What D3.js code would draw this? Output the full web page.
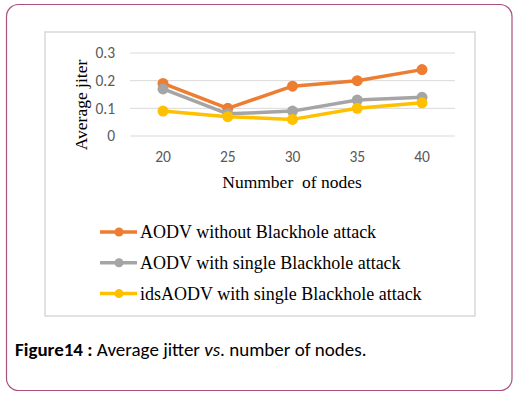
<!DOCTYPE html>
<html>
<head>
<meta charset="utf-8">
<script src="https://cdn.jsdelivr.net/npm/d3@7"></script>
<style>
  html, body { margin: 0; padding: 0; background: #fff; }
  svg { display: block; }
</style>
</head>
<body>
<svg id="chart" width="514" height="395"></svg>
<script>
const nodes = [20, 25, 30, 35, 40]
const yTicks = [0, 0.1, 0.2, 0.3]
const seriesNames = [
  'AODV without Blackhole attack',
  'AODV with single Blackhole attack',
  'idsAODV with single Blackhole attack'
]
const aodvNoAttack = [0.19, 0.10, 0.18, 0.20, 0.24]
const aodvSingle = [0.17, 0.08, 0.09, 0.13, 0.14]
const idsAodvSingle = [0.09, 0.07, 0.06, 0.10, 0.12]
const COLORS = ['#ED7D31', '#A5A5A5', '#FFC000']

const series = [aodvNoAttack, aodvSingle, idsAodvSingle].map((values, i) => ({
  name: seriesNames[i],
  color: COLORS[i],
  points: values.map((v, j) => ({ x: nodes[j], y: v }))
}))

const svg = d3.select('#chart')

// outer frame
svg.append('rect')
  .attr('x', 6.5).attr('y', 4.5)
  .attr('width', 505.5).attr('height', 386)
  .attr('rx', 12)
  .attr('fill', '#fff')
  .attr('stroke', '#a9507f')
  .attr('stroke-width', 1.2)

// chart box
svg.append('rect')
  .attr('x', 45).attr('y', 32)
  .attr('width', 430).attr('height', 284)
  .attr('fill', '#fff')
  .attr('stroke', '#d9d9d9')
  .attr('stroke-width', 1.5)

const x = d3.scalePoint()
  .domain(nodes)
  .range([163, 422])

const y = d3.scaleLinear()
  .domain([0, 0.3])
  .range([136, 53])

// gridlines
svg.append('g')
  .selectAll('line')
  .data(yTicks)
  .enter()
  .append('line')
  .attr('x1', 130).attr('x2', 455)
  .attr('y1', d => y(d)).attr('y2', d => y(d))
  .attr('stroke', '#d9d9d9')
  .attr('stroke-width', 1)

const sansFont = 'Carlito, "Open Sans", "Liberation Sans", sans-serif'
const serifFont = '"Liberation Serif", "DejaVu Serif", serif'

// y tick labels
svg.append('g')
  .selectAll('text')
  .data(yTicks)
  .enter()
  .append('text')
  .attr('x', 115)
  .attr('y', d => y(d))
  .attr('dy', '0.35em')
  .attr('text-anchor', 'end')
  .attr('font-family', sansFont)
  .attr('font-size', '15.5px')
  .attr('fill', '#595959')
  .text(d => d === 0 ? '0' : d3.format('.1f')(d))

// x tick labels
svg.append('g')
  .selectAll('text')
  .data(nodes)
  .enter()
  .append('text')
  .attr('x', d => x(d))
  .attr('y', 162)
  .attr('text-anchor', 'middle')
  .attr('font-family', sansFont)
  .attr('font-size', '15.5px')
  .attr('fill', '#595959')
  .text(d => d)

// axis titles
svg.append('text')
  .attr('x', 292)
  .attr('y', 188)
  .attr('text-anchor', 'middle')
  .attr('font-family', serifFont)
  .attr('font-size', '17.5px')
  .attr('fill', '#000')
  .style('white-space', 'pre')
  .text('Nummber  of nodes')

svg.append('text')
  .attr('transform', 'translate(87,105) rotate(-90)')
  .attr('text-anchor', 'middle')
  .attr('font-family', serifFont)
  .attr('font-size', '17.5px')
  .attr('fill', '#000')
  .text('Average jiter')

// lines and markers
const line = d3.line()
  .x(d => x(d.x))
  .y(d => y(d.y))

const seriesG = svg.append('g')
  .selectAll('g')
  .data(series)
  .enter()
  .append('g')

seriesG.append('path')
  .attr('d', d => line(d.points))
  .attr('fill', 'none')
  .attr('stroke', d => d.color)
  .attr('stroke-width', 3.5)
  .attr('stroke-linejoin', 'round')

seriesG.selectAll('circle')
  .data(d => d.points.map(p => ({ ...p, color: d.color })))
  .enter()
  .append('circle')
  .attr('cx', d => x(d.x))
  .attr('cy', d => y(d.y))
  .attr('r', 5.5)
  .attr('fill', d => d.color)

// legend
const legend = svg.append('g')
  .selectAll('g')
  .data(series)
  .enter()
  .append('g')
  .attr('transform', (d, i) => `translate(100,${232 + i * 30.8})`)

legend.append('line')
  .attr('x1', 0).attr('x2', 37)
  .attr('stroke', d => d.color)
  .attr('stroke-width', 3.5)

legend.append('circle')
  .attr('cx', 19)
  .attr('r', 4.5)
  .attr('fill', d => d.color)

legend.append('text')
  .attr('x', 40)
  .attr('dy', '0.33em')
  .attr('font-family', serifFont)
  .attr('font-size', '18px')
  .attr('fill', '#000')
  .text(d => d.name)

// caption
const caption = svg.append('text')
  .attr('x', 15)
  .attr('y', 356)
  .attr('font-family', sansFont)
  .attr('font-size', '19px')
  .attr('fill', '#000')

caption.append('tspan').attr('font-weight', 'bold').text('Figure14 :')
caption.append('tspan').text(' Average jitter ')
caption.append('tspan').attr('font-style', 'italic').text('vs')
caption.append('tspan').text('. number of nodes.')
</script>
</body>
</html>
